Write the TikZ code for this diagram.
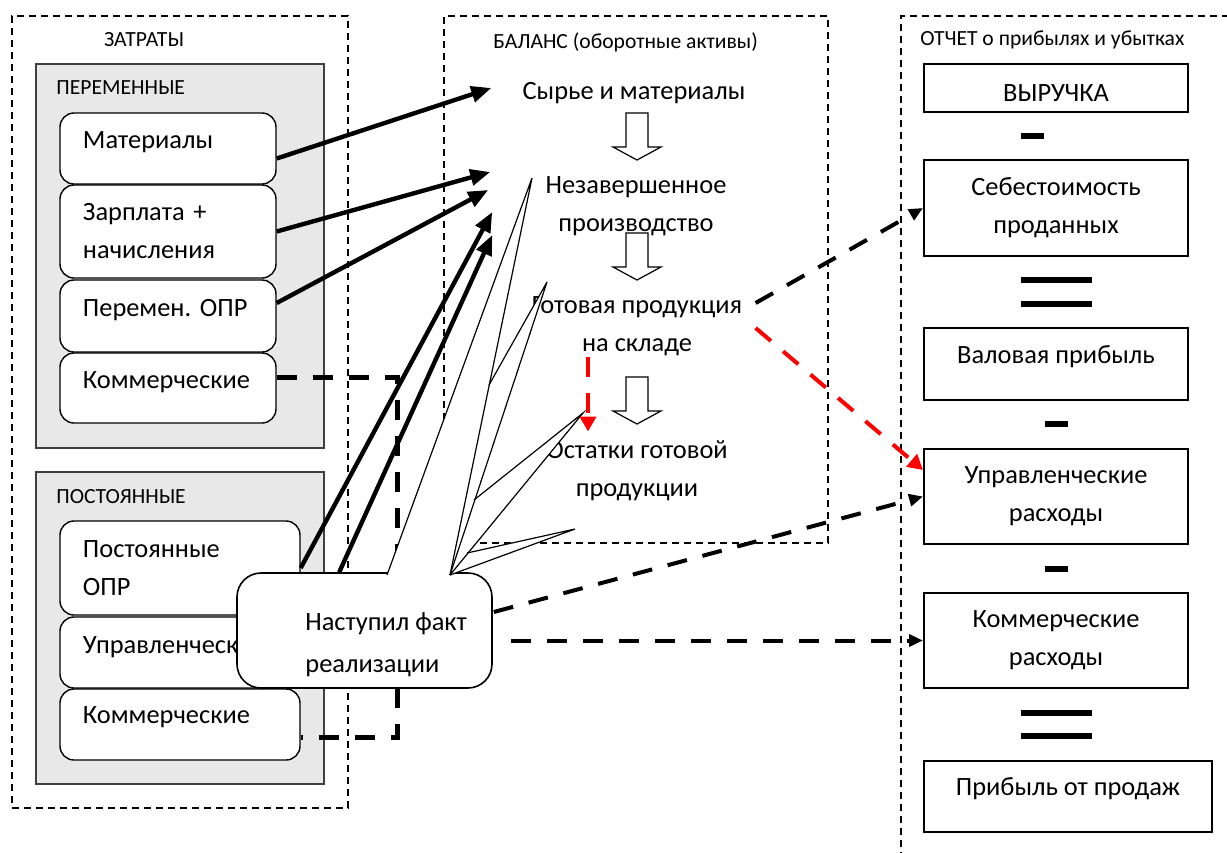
\documentclass[tikz,border=0pt]{standalone}
\usepackage{fontspec}
\setmainfont{Carlito}
\usetikzlibrary{arrows.meta,calc}
\hyphenpenalty=10000
\exhyphenpenalty=10000
\frenchspacing

\newcommand{\mainfnt}{\fontsize{13.2}{19}\selectfont}
\newcommand{\callfnt}{\fontsize{13.2}{21}\selectfont}
\newcommand{\smallfnt}{\fontsize{10.8}{12}\selectfont}

\tikzset{
  grouplbl/.style={font=\smallfnt, inner sep=0pt},
  groupbox/.style={draw, dash pattern=on 3.5pt off 2.5pt, line width=0.8pt},
  shadebox/.style={draw=black!75, fill=black!9, line width=0.8pt},
  costbox/.style={draw, fill=white, rounded corners=7pt, line width=0.7pt,
    align=left, inner xsep=11.5pt, font=\mainfnt},
  repbox/.style={draw, line width=1pt, minimum width=132pt, align=center, font=\mainfnt},
  baltxt/.style={align=center, inner sep=0pt, font=\mainfnt},
  solidarr/.style={line width=2.2pt, -{Triangle[length=10pt,width=8pt]}},
  dasharr/.style={line width=2pt, dash pattern=on 10pt off 8pt, -{Triangle[length=7pt,width=6pt]}},
  redarr/.style={dasharr, draw=red, -{Triangle[length=7.5pt,width=8pt,red]}},
  bracketline/.style={line width=2.5pt, dash pattern=on 10pt off 8pt},
  blockarr/.style={draw, fill=white, line width=0.6pt},
  signbar/.style={line width=2.7pt},
  tailfill/.style={fill=white},
  tailline/.style={draw, line width=0.6pt},
}

\begin{document}
\begin{tikzpicture}[x=0.5pt, y=-0.5pt]
\useasboundingbox (0,0) rectangle (1227,852);

% затраты
\node[groupbox, minimum width=168pt, minimum height=396pt] (costs) at (180,412) {};
\node[grouplbl] (costslbl) at (144,40) {ЗАТРАТЫ};
\node[shadebox, minimum width=144pt, minimum height=192pt] (varbox) at (180,256) {};
\node[grouplbl, anchor=west] (varlbl) at (56,88) {ПЕРЕМЕННЫЕ};
\node[shadebox, minimum width=144pt, minimum height=156pt] (fixbox) at (180,628) {};
\node[grouplbl, anchor=west] (fixlbl) at (56,497) {ПОСТОЯННЫЕ};

\node[costbox, text width=85pt, minimum height=35.5pt, text depth=8pt] (mat) at (168,148.5) {Материалы};
\node[costbox, text width=85pt, minimum height=46.5pt] (sal) at (168,231.5) {Зарплата +\\начисления};
\node[costbox, text width=85pt, minimum height=36pt, text depth=8pt] (popr) at (168,316) {Перемен. ОПР};
\node[costbox, text width=85pt, minimum height=35pt, text depth=8pt] (comv) at (168,388) {Коммерческие};

\node[costbox, text width=97pt, minimum height=47pt] (fopr) at (180,568) {Постоянные\\ОПР};
\node[costbox, text width=97pt, minimum height=35.5pt, text depth=7.5pt] (admf) at (180,652.5) {Управленческие};
\node[costbox, text width=97pt, minimum height=35.5pt, text depth=9pt] (comf) at (180,724.5) {Коммерческие};

% баланс
\node[groupbox, minimum width=192pt, minimum height=263.5pt] (bal) at (636,279.5) {};
\node[grouplbl, anchor=west] (ballbl) at (493,42) {БАЛАНС (оборотные активы)};

\node[baltxt] (raw) at (634,93) {Сырье и материалы};
\node[baltxt] (wip) at (636,206.5) {Незавершенное\\производство};
\node[baltxt] (fin) at (637,326.5) {Готовая продукция\\на складе};
\node[baltxt] (rest) at (637,471) {Остатки готовой\\продукции};

\foreach \t in {113,233,377}
  \draw[blockarr] (626,\t) -- (648,\t) -- (648,\t+34) -- (661,\t+34) -- (637,\t+47)
    -- (613,\t+34) -- (626,\t+34) -- cycle;

% отчет
\node[groupbox, minimum width=179pt, minimum height=424pt] (rep) at (1080,440) {};
\node[grouplbl, anchor=west] (replbl) at (920,40) {ОТЧЕТ о прибылях и убытках};

\node[repbox, minimum height=24pt, text height=13pt, text depth=0pt] (rev) at (1056,88) {ВЫРУЧКА};
\node[repbox, minimum height=48pt] (cogs) at (1056,208) {Себестоимость\\проданных};
\node[repbox, minimum height=36pt, text depth=9.5pt] (gross) at (1056,364) {Валовая прибыль};
\node[repbox, minimum height=47.5pt] (mgmt) at (1056,496.5) {Управленческие\\расходы};
\node[repbox, minimum height=47.5pt] (sell) at (1056,640.5) {Коммерческие\\расходы};
\node[repbox, minimum width=144pt, minimum height=35.5pt, text depth=9.5pt] (profit) at (1068,796.5) {Прибыль от продаж};

\draw[signbar] (1021,136) -- (1044,136);
\draw[signbar] (1045,424) -- (1068,424);
\draw[signbar] (1045,569) -- (1068,569);
\foreach \y in {280,304,713,736}
  \draw[signbar] (1021,\y) -- (1092,\y);

% связи
\draw[solidarr] ([shift={(0,10)}]mat.east) -- ([shift={(-31,-5)}]raw.west);
\draw[solidarr] (sal.east) -- ([shift={(-55,-34.5)}]wip.west);
\draw[solidarr] ([shift={(0,-13)}]popr.east) -- ([shift={(-57,-16.5)}]wip.west);
\draw[solidarr] (fopr.east) -- ([shift={(-53,5.5)}]wip.west);
\draw[bracketline] ([shift={(0,-11)}]comv.east) -- ++(121,0) |- ([shift={(0,12.5)}]comf.east);

% выноска
\node[draw, fill=white, rounded corners=12pt, line width=0.8pt,
  minimum width=127.5pt, minimum height=57.5pt] (fact) at (364.5,630.5) {};
\coordinate (fbase) at ([shift={(103,0)}]fact.north west);
\draw[solidarr] (fbase) -- ([shift={(-53,28.5)}]wip.west);
\node[font=\callfnt, align=left, anchor=west, inner sep=0pt] (facttxt) at (305,645) {Наступил факт\\реализации};

\coordinate (t0) at (387,575);
\coordinate (tO) at (450,575);
\coordinate (tA) at (532,178);
\coordinate (tB) at (547,282);
\coordinate (tC) at (583,413);
\coordinate (tD) at (575,529);
\coordinate (t1) at (489,385);
\coordinate (t2) at (474,500);
\coordinate (t3) at (467,553);
\fill[tailfill] (t0) -- (tA) -- (tO) -- cycle;
\fill[tailfill] (t1) -- (tB) -- (tO) -- cycle;
\fill[tailfill] (t2) -- (tC) -- (tO) -- cycle;
\fill[tailfill] (t3) -- (tD) -- (tO) -- cycle;
\draw[tailline] (t0) -- (tA) -- (tO);
\draw[tailline] (t1) -- (tB) -- (tO);
\draw[tailline] (t2) -- (tC) -- (tO);
\draw[tailline] (t3) -- (tD) -- (tO);

\draw[dasharr] ([shift={(13,-23.5)}]fin.east) -- (cogs.west);
\draw[redarr] ([shift={(13,1.5)}]fin.east) -- ([shift={(0,-26.5)}]mgmt.west);
\draw[redarr] ([shift={(-49,0)}]fin.south) -- ([shift={(-49,-9)}]rest.north);
\draw[dasharr] ([shift={(1,-18.5)}]fact.east) -- (mgmt.west);
\draw[dasharr, shorten <=9pt] (fact.east |- sell.west) -- (sell.west);

\end{tikzpicture}
\end{document}
